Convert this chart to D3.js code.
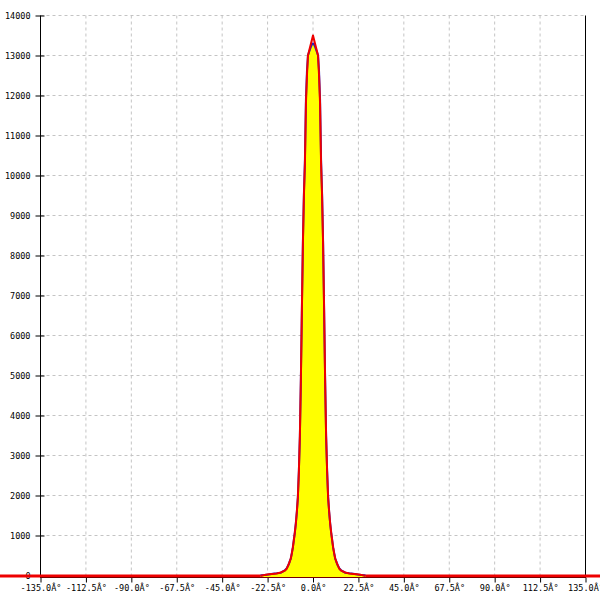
<!DOCTYPE html>
<html><head><meta charset="utf-8">
<script src="https://cdn.jsdelivr.net/npm/d3@7"></script>
<style>body{margin:0;background:#fff}svg{display:block}</style>
</head><body>
<svg id="c" width="600" height="600"></svg>
<script>
const angles = [-26,-24,-22,-20,-18,-16,-14,-13,-12,-11.5,-11,-10.5,-10,-9.5,-9,-8.5,-8,-7.5,-7,-6.5,-6,-5.5,-5,-4.5,-4,-3.5,-3,-2.5,-2,-1.5,-1,-0.5,0,0.5,1,1.5,2,2.5,3,3.5,4,4.5,5,5.5,6,6.5,7,7.5,8,8.5,9,9.5,10,10.5,11,11.5,12,13,14,16,18,20,22,24,26];
const histValues = [0,10,25,45,55,70,125,180,280,360,420,560,690,890,1070,1310,1590,1960,2620,3480,4950,6650,8350,9550,10400,11900,12600,13000,13080,13150,13220,13280,13300,13280,13220,13150,13080,13000,12600,11900,10400,9550,8350,6650,4950,3480,2620,1960,1590,1310,1070,890,690,560,420,360,280,180,125,70,55,45,25,10,0];
const fitValues = [0,15,30,40,50,75,120,170,290,350,430,550,700,880,1080,1300,1600,1950,2600,3500,4900,6700,8300,9500,10300,11800,12500,13000,13100,13200,13300,13400,13500,13400,13300,13200,13100,13000,12500,11800,10300,9500,8300,6700,4900,3500,2600,1950,1600,1300,1080,880,700,550,430,350,290,170,120,75,50,40,30,15,0];
const xTicks = [-135,-112.5,-90,-67.5,-45,-22.5,0,22.5,45,67.5,90,112.5,135];
const yTicks = [0,1000,2000,3000,4000,5000,6000,7000,8000,9000,10000,11000,12000,13000,14000];

const svg = d3.select("#c");
const x = d3.scaleLinear().domain([-135,135]).range([40.5,585.5]);
const y = d3.scaleLinear().domain([0,14000]).range([575.5,15.5]);
const font = "'DejaVu Sans Mono', monospace";

// grid
const g = svg.append("g");
g.selectAll(".hg").data(yTicks.filter(d=>d>0)).enter().append("line")
  .attr("x1",x(-135)).attr("x2",x(135)).attr("y1",d=>y(d)).attr("y2",d=>y(d))
  .attr("stroke","#c4c4c4").attr("stroke-dasharray","3,3");
g.selectAll(".vg").data(xTicks.filter(d=>d>-135&&d<135)).enter().append("line")
  .attr("x1",d=>x(d)).attr("x2",d=>x(d)).attr("y1",y(14000)).attr("y2",577)
  .attr("stroke","#c4c4c4").attr("stroke-dasharray","3,3");

// axes
const yAxis = d3.axisLeft(y).tickValues(yTicks).tickSize(0).tickFormat(d3.format("d"));
const ya = svg.append("g").attr("transform","translate(40.5,0)").call(yAxis);
ya.select(".domain").remove();
ya.selectAll("text").attr("x",-10).attr("font-family",font).attr("font-size","8.5px").attr("fill","#000");
ya.selectAll(".tick").append("line").attr("x1",-5).attr("x2",4).attr("stroke","#000");
svg.append("line").attr("x1",40.5).attr("x2",40.5).attr("y1",y(14000)).attr("y2",578).attr("stroke","#000");
svg.append("line").attr("x1",585.5).attr("x2",585.5).attr("y1",y(14000)).attr("y2",578).attr("stroke","#000");

const xAxis = d3.axisBottom(x).tickValues(xTicks).tickSize(5).tickFormat(d=>d.toFixed(1)+"Â°");
const xa = svg.append("g").attr("transform","translate(0,577.5)").call(xAxis);
xa.select(".domain").attr("d",`M${x(-135)},0H${x(135)}`).attr("stroke","#000");
xa.selectAll("text").attr("font-family",font).attr("font-size","8.5px").attr("fill","#000").attr("dy","0.71em").attr("y",7);
xa.selectAll(".tick line").attr("stroke","#000");

// fit baseline (zero level of the fit across the whole width)
svg.append("line").attr("x1",0).attr("x2",600).attr("y1",y(0)+0.5).attr("y2",y(0)+0.5)
  .attr("stroke","#ee0000").attr("stroke-width",3);

// histogram
const pts = angles.map((a,i)=>[a,histValues[i]]);
svg.append("path").datum(pts)
  .attr("d",d3.area().x(d=>x(d[0])).y0(577).y1(d=>y(d[1])))
  .attr("fill","#ffff00");
svg.append("path").datum(pts)
  .attr("d",d3.line().x(d=>x(d[0])).y(d=>y(d[1])))
  .attr("fill","none").attr("stroke","#2020c8").attr("stroke-width",2);

// fit curve
const fpts = angles.map((a,i)=>[a,fitValues[i]]);
svg.append("path").datum(fpts)
  .attr("d",d3.line().x(d=>x(d[0])).y(d=>y(d[1])+(d[1]===0?0.5:0)))
  .attr("fill","none").attr("stroke","#ee0000").attr("stroke-width",2).attr("stroke-linejoin","round");
</script>
</body></html>
